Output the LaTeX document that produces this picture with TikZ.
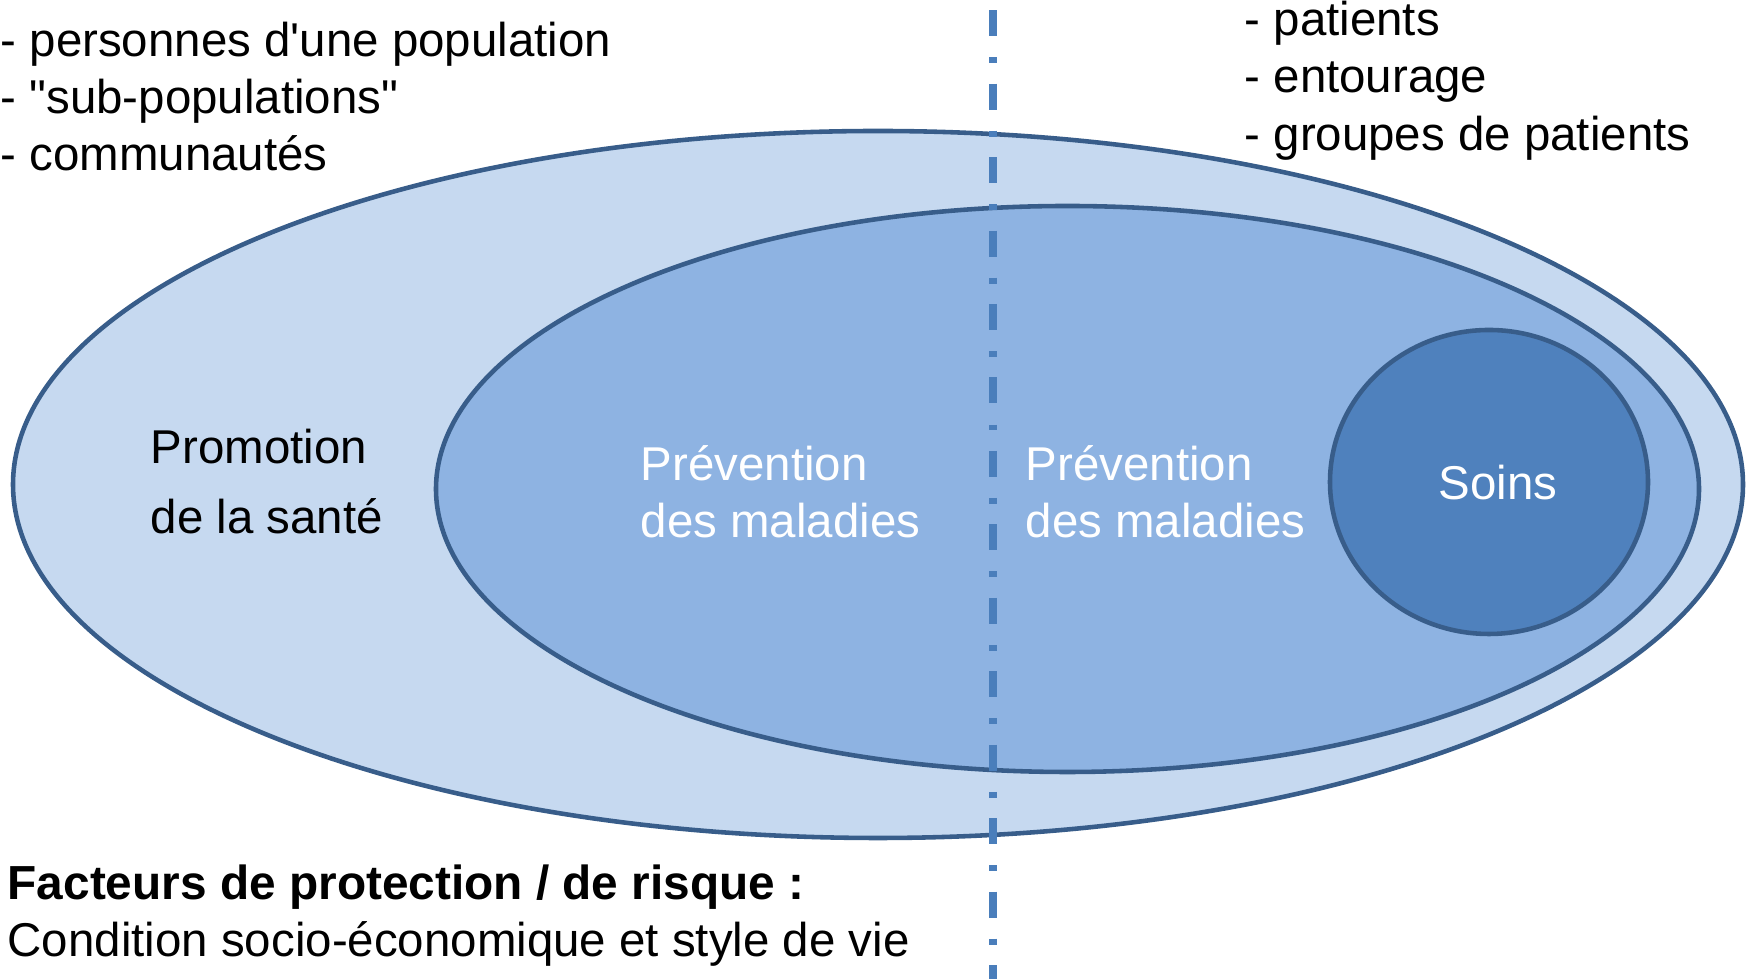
\documentclass[tikz,border=0pt]{standalone}
\usepackage{fontspec}
\setmainfont{Liberation Sans}[Ligatures=TeXOff]
\definecolor{zoneout}{RGB}{198,217,240}
\definecolor{zonemid}{RGB}{142,179,226}
\definecolor{zonein}{RGB}{79,129,189}
\definecolor{edgeblue}{RGB}{56,93,138}
\definecolor{splitblue}{RGB}{74,126,187}
\begin{document}
\begin{tikzpicture}[
    zone/.style={draw=edgeblue, line width=1.3pt},
    txt/.style={anchor=base west, inner sep=0pt, font=\fontsize{13.5}{16}\selectfont},
    wtxt/.style={txt, text=white}
  ]
    \useasboundingbox (0,0) rectangle (17.54,9.79);
    \clip (0,0) rectangle (17.54,9.79);
    % zones
    \draw[zone, fill=zoneout] (8.78,4.945) ellipse (8.65 and 3.535);
    \draw[zone, fill=zonemid] (10.675,4.90) ellipse (6.315 and 2.83);
    \draw[zone, fill=zonein] (14.89,4.97) ellipse (1.59 and 1.52);
    % separation
    \draw[splitblue, line width=2pt, dash pattern=on 7.4pt off 6pt on 1.7pt off 5.8pt]
        (9.93,10.423) -- (9.93,-0.5);
    % groups
    \node[txt] (pop1) at (0,9.225) {- personnes d'une population};
    \node[txt] (pop2) at (0,8.655) {- "sub-populations"};
    \node[txt] (pop3) at (0,8.085) {- communautés};
    \node[txt] (pat1) at (12.44,9.43) {- patients};
    \node[txt] (pat2) at (12.44,8.86) {- entourage};
    \node[txt] (pat3) at (12.44,8.28) {- groupes de patients};
    % zone labels
    \node[txt] (promo1) at (1.50,5.15) {Promotion};
    \node[txt] (promo2) at (1.50,4.45) {de la santé};
    \node[wtxt] (prevA1) at (6.40,4.98) {Prévention};
    \node[wtxt] (prevA2) at (6.40,4.41) {des maladies};
    \node[wtxt] (prevB1) at (10.25,4.98) {Prévention};
    \node[wtxt] (prevB2) at (10.25,4.41) {des maladies};
    \node[wtxt, anchor=base] (soins) at (14.98,4.79) {Soins};
    % factors
    \node[txt, font=\fontsize{13.6}{16}\selectfont\bfseries] (fact) at (0.07,0.795) {Facteurs de protection / de risque :};
    \node[txt] (cond) at (0.07,0.22) {Condition socio-économique et style de vie};
\end{tikzpicture}
\end{document}
